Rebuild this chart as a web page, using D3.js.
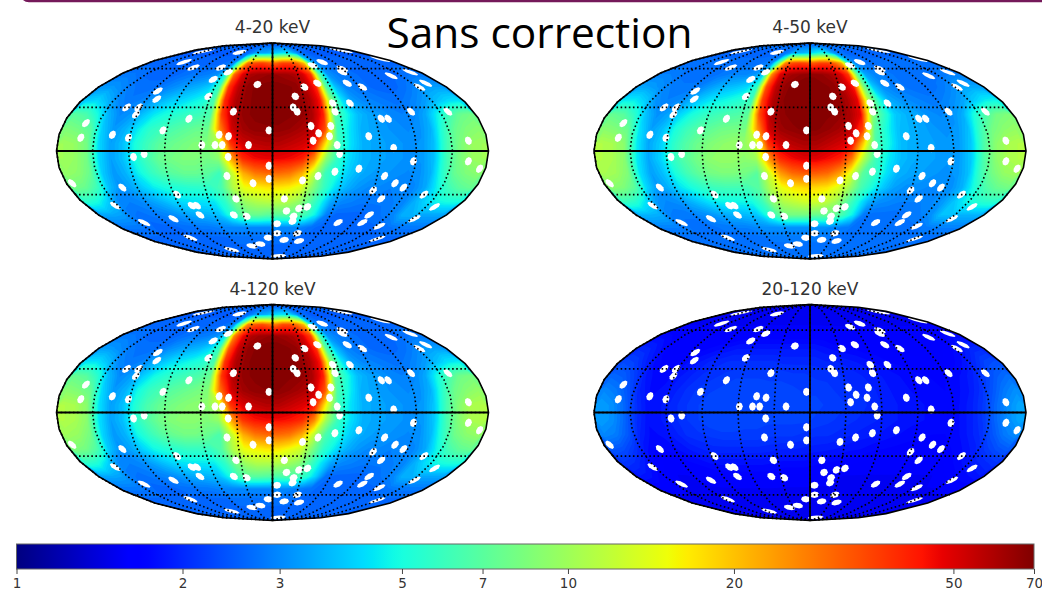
<!DOCTYPE html>
<html lang="en">
<head>
<meta charset="UTF-8">
<title>Sans correction</title>
<script src="https://d3js.org/d3.v7.min.js"></script>
<style>
  html, body { margin: 0; padding: 0; background: #fff; overflow: hidden; }
  svg { display: block; }
</style>
</head>
<body>
<div id="my_dataviz"></div>
<script>
// rows run from lat 85 down to lat -85, columns from lon -175 to lon 175 (10 degree cells)
var flux4to20 = [
  [2.6,2.6,2.6,2.6,2.6,2.6,2.6,2.6,2.6,2.6,2.6,2.6,2.6,2.6,2.6,2.6,2.6,2.6,2.6,2.6,2.6,2.6,2.6,2.6,2.6,2.6,2.6,2.6,2.6,2.6,2.6,2.6,2.6,2.6,2.6,2.6],
  [2.5,2.5,2.5,2.5,2.5,2.5,2.5,2.5,2.5,2.5,2.5,2.5,2.6,2.8,3.2,3.4,3.4,3.6,4,4.2,4.4,4.2,3.4,2.8,2.6,2.5,2.5,2.5,2.5,2.5,2.5,2.5,2.5,2.5,2.5,2.5],
  [2.6,2.6,2.6,2.6,2.6,2.6,2.6,2.6,2.6,2.6,2.6,2.7,3,9,28,34,36,32,30,36,36,30,20,4.5,2.9,2.7,2.6,2.6,2.6,2.6,2.6,2.6,2.6,2.6,2.6,2.6],
  [2.8,2.8,2.7,2.6,2.6,2.6,2.6,2.7,2.8,2.8,2.9,3.1,5,30,50,60,62,64,64,62,60,52,38,7,3.2,2.9,2.8,2.7,2.6,2.6,2.6,2.6,2.6,2.7,2.8,2.8],
  [3.2,3.2,3,2.8,2.7,2.7,2.8,3,3.2,3.4,3.6,4,6,38,56,66,68,69,69,68,66,56,42,7,3.8,3,2.8,2.7,2.6,2.6,2.6,2.7,2.9,3.2,3.3,3.3],
  [4,4.2,3.6,3,2.8,2.9,3.2,3.6,4,4.2,4.6,5,6.5,40,58,66,68,70,70,68,66,60,44,9,4.5,3.3,3,2.9,2.8,2.7,2.8,3,3.3,3.8,4.2,4.4],
  [7,6.5,5,3.6,3,3.2,3.8,4.5,5,5.4,5.8,6,6.5,36,58,66,68,70,70,68,66,60,42,7,5,3.8,3.4,3.2,3,2.9,3,3.4,4.6,6,7.5,8],
  [8.5,8,7,4,3.2,3.6,4.5,5.5,6,6.5,7,7.5,7.5,26,52,62,66,66,66,64,60,55,34,6,4.5,3.6,3.4,3.2,3.1,3,3.1,3.6,5.5,7.5,8.5,9],
  [10,9.5,8,4.2,3.3,3.8,5,6,7,7.5,8,8.5,8.5,11,38,52,56,58,58,55,52,46,16,6,4.4,3.6,3.4,3.3,3.2,3.1,3.2,3.8,6,8,9.5,10],
  [10,9.5,8,4.2,3.3,3.8,5,6.2,7.5,8,8.5,8.5,8,9,22,40,46,48,48,46,42,26,9,5.5,4.2,3.6,3.4,3.3,3.2,3.1,3.2,3.8,6,8,9.5,10],
  [9.5,9,7.5,4,3.2,3.6,4.6,5.6,6.5,7,7.5,7.5,7,6,12,22,28,30,30,28,22,12,6,5,4,3.5,3.3,3.2,3.1,3,3.1,3.6,5.5,7.5,8.5,9],
  [8,7.5,6,3.8,3.1,3.4,4,4.6,5,5.2,5.4,5.5,5.6,6.5,11,15,16,17,17,16,14,9,6,4.4,3.6,3.2,3,3,2.9,2.9,3,3.4,4.6,6,7,7.5],
  [5.5,5,4,3,2.9,3,3.3,3.6,4,4.3,4.4,4.4,4.5,5.5,8,10,11,11.5,11.5,11,9.5,7,5,3.4,3,2.9,2.8,2.8,2.8,2.9,3,3.6,4.2,4.8,5,5],
  [3.4,3.4,3.3,2.8,2.7,2.8,2.9,3,3.2,3.4,3.5,3.6,3.8,5,6.5,7.5,7.5,7,7,7,7,6,4.5,2.9,2.6,2.6,2.6,2.6,2.7,2.8,3,3.6,3.6,3.4,3.4,3.4],
  [2.8,2.8,2.8,2.7,2.6,2.6,2.6,2.7,2.7,2.8,2.8,2.9,3,3,3,3,3,3,3,3,3,2.9,2.7,2.6,2.6,2.6,2.6,2.6,2.6,2.6,2.6,2.7,2.8,2.8,2.8,2.8],
  [2.6,2.6,2.6,2.6,2.6,2.6,2.6,2.6,2.6,2.6,2.6,2.6,2.7,2.7,2.7,2.7,2.7,2.7,2.7,2.7,2.7,2.6,2.6,2.6,2.6,2.6,2.6,2.6,2.6,2.6,2.6,2.6,2.6,2.6,2.6,2.6],
  [2.6,2.6,2.6,2.6,2.6,2.6,2.6,2.6,2.6,2.6,2.6,2.6,2.6,2.6,2.6,2.6,2.6,2.6,2.6,2.6,2.6,2.6,2.6,2.6,2.6,2.6,2.6,2.6,2.6,2.6,2.6,2.6,2.6,2.6,2.6,2.6],
  [2.6,2.6,2.6,2.6,2.6,2.6,2.6,2.6,2.6,2.6,2.6,2.6,2.6,2.6,2.6,2.6,2.6,2.6,2.6,2.6,2.6,2.6,2.6,2.6,2.6,2.6,2.6,2.6,2.6,2.6,2.6,2.6,2.6,2.6,2.6,2.6]
];

var flux4to50 = [
  [2.7,2.7,2.7,2.7,2.7,2.7,2.7,2.7,2.7,2.7,2.7,2.7,2.7,2.7,2.7,2.7,2.7,2.7,2.7,2.7,2.7,2.7,2.7,2.7,2.7,2.7,2.7,2.7,2.7,2.7,2.7,2.7,2.7,2.7,2.7,2.7],
  [2.6,2.6,2.6,2.6,2.6,2.6,2.6,2.6,2.6,2.6,2.6,2.6,2.7,2.9,3.4,3.6,3.6,3.8,4.4,4.8,5,4.4,3.4,2.9,2.7,2.6,2.6,2.6,2.6,2.6,2.6,2.6,2.6,2.6,2.6,2.6],
  [2.7,2.7,2.7,2.7,2.7,2.7,2.7,2.7,2.7,2.7,2.7,2.8,3,7,26,34,36,34,32,36,36,30,22,5,3,2.8,2.7,2.7,2.7,2.7,2.7,2.7,2.7,2.7,2.7,2.7],
  [2.9,2.9,2.8,2.7,2.7,2.7,2.7,2.8,2.9,3,3,3.2,4,26,50,60,63,66,66,64,60,52,38,8,3.4,3,2.9,2.8,2.7,2.7,2.7,2.7,2.7,2.8,2.9,2.9],
  [3.4,3.3,3.1,2.9,2.8,2.8,2.9,3.2,3.5,3.7,3.9,4.2,5.5,34,56,66,69,70,70,68,66,56,44,9,4,3.1,2.9,2.8,2.7,2.7,2.7,2.8,3,3.3,3.4,3.4],
  [4.6,4.6,4,3.1,2.9,3,3.4,3.9,4.4,4.7,5,5.4,6,36,58,67,69,70,70,69,66,60,48,11,5.2,3.5,3.2,3,2.9,2.8,2.9,3.1,3.4,4,4.6,4.8],
  [7.5,7,5.5,3.8,3.1,3.4,4.2,5,5.6,6,6.4,6.6,7,34,58,66,69,70,70,68,66,60,48,9,5.8,4,3.6,3.4,3.1,3,3.1,3.5,5,6.5,8,8.5],
  [9,8.5,7.5,4.4,3.3,3.8,5,6,6.8,7.2,7.8,8,8,24,52,63,66,68,68,65,61,56,36,7,5,3.8,3.6,3.4,3.2,3.1,3.2,3.8,6,8,9,9.5],
  [11,10.5,9,4.6,3.4,4,5.4,6.6,7.6,8.4,9,9.5,9.5,12,38,52,57,60,60,56,52,46,18,6.5,5,3.8,3.5,3.4,3.3,3.2,3.3,4,6.5,9,10.5,11],
  [11,10.5,9,4.6,3.4,4.1,5.6,6.8,8,9,9.5,9.5,9,10,24,40,46,50,50,46,42,28,11,6,4.6,3.8,3.5,3.4,3.3,3.2,3.3,4,6.5,9,10.5,11],
  [10.5,10,8.5,4.4,3.3,3.8,5,6.2,7.2,8,8.4,8.4,8,7,13,24,30,32,32,30,24,14,7,5.8,4.4,3.6,3.4,3.3,3.2,3.1,3.2,3.8,6,8,9.5,10],
  [9,8.5,7,4.2,3.2,3.6,4.4,5,5.6,6,6.2,6.2,6.2,7,11,15,17,18,18,17,14,10,6.4,5,3.9,3.3,3.1,3.1,3,3,3.1,3.6,5,6.5,7.5,8],
  [6,5.5,4.4,3.2,3,3.1,3.5,3.9,4.4,4.7,4.8,4.8,4.9,6,9,11,12,13,13,12,10,7,5,3.6,3.1,3,2.9,2.9,2.9,3,3.2,3.8,4.6,5.2,5.5,5.5],
  [3.6,3.6,3.5,2.9,2.8,2.8,3,3.1,3.3,3.5,3.6,3.7,3.9,5,6.5,8,8,8,7.5,7.5,7.5,6,4.5,2.8,2.7,2.7,2.7,2.7,2.8,2.9,3.1,3.8,3.8,3.6,3.6,3.6],
  [2.9,2.9,2.9,2.8,2.7,2.7,2.7,2.8,2.8,2.9,2.9,3,3.1,3.1,3.1,3.1,3.1,3.1,3.1,3.1,3,2.9,2.8,2.7,2.7,2.7,2.7,2.7,2.7,2.7,2.7,2.8,2.9,2.9,2.9,2.9],
  [2.7,2.7,2.7,2.7,2.7,2.7,2.7,2.7,2.7,2.7,2.7,2.7,2.8,2.8,2.8,2.8,2.8,2.8,2.8,2.8,2.8,2.7,2.7,2.7,2.7,2.7,2.7,2.7,2.7,2.7,2.7,2.7,2.7,2.7,2.7,2.7],
  [2.7,2.7,2.7,2.7,2.7,2.7,2.7,2.7,2.7,2.7,2.7,2.7,2.7,2.7,2.7,2.7,2.7,2.7,2.7,2.7,2.7,2.7,2.7,2.7,2.7,2.7,2.7,2.7,2.7,2.7,2.7,2.7,2.7,2.7,2.7,2.7],
  [2.7,2.7,2.7,2.7,2.7,2.7,2.7,2.7,2.7,2.7,2.7,2.7,2.7,2.7,2.7,2.7,2.7,2.7,2.7,2.7,2.7,2.7,2.7,2.7,2.7,2.7,2.7,2.7,2.7,2.7,2.7,2.7,2.7,2.7,2.7,2.7]
];

var flux4to120 = [
  [2.6,2.6,2.6,2.6,2.6,2.6,2.6,2.6,2.6,2.6,2.6,2.6,2.6,2.6,2.6,2.6,2.6,2.6,2.6,2.6,2.6,2.6,2.6,2.6,2.6,2.6,2.6,2.6,2.6,2.6,2.6,2.6,2.6,2.6,2.6,2.6],
  [2.5,2.5,2.5,2.5,2.5,2.5,2.5,2.5,2.5,2.5,2.5,2.5,2.6,2.8,3.2,3.4,3.5,3.8,4.2,4.4,4.4,4.2,3.4,2.8,2.6,2.5,2.5,2.5,2.5,2.5,2.5,2.5,2.5,2.5,2.5,2.5],
  [2.6,2.6,2.6,2.6,2.6,2.6,2.6,2.6,2.6,2.6,2.6,2.7,3,8,26,32,34,30,28,34,34,28,20,4.5,2.9,2.7,2.6,2.6,2.6,2.6,2.6,2.6,2.6,2.6,2.6,2.6],
  [2.8,2.8,2.7,2.6,2.6,2.6,2.6,2.7,2.8,2.8,2.9,3.1,4.5,26,46,58,62,64,64,62,58,50,36,7,3.2,2.9,2.8,2.7,2.6,2.6,2.6,2.6,2.6,2.7,2.8,2.8],
  [3.3,3.2,3,2.8,2.7,2.7,2.8,3.1,3.3,3.5,3.7,4.2,6,32,54,65,68,70,70,68,65,55,40,7,3.8,3,2.8,2.7,2.6,2.6,2.6,2.7,2.9,3.2,3.3,3.3],
  [4.4,4.4,3.8,3,2.8,2.9,3.3,3.8,4.3,4.6,5,5.4,6.5,38,58,66,69,70,70,69,66,60,44,9,4.6,3.3,3,2.9,2.8,2.7,2.8,3,3.3,3.8,4.4,4.6],
  [7.5,7,5.5,3.7,3,3.3,4,4.8,5.4,5.8,6.2,6.6,7.5,38,58,66,68,70,70,68,66,60,42,7.5,5.2,3.8,3.4,3.2,3,2.9,3,3.4,4.8,6.2,7.8,8.2],
  [9,8.5,7.5,4.2,3.2,3.6,4.8,5.8,6.4,7,7.5,8,8.5,28,52,62,66,67,67,64,60,55,32,6.5,4.8,3.6,3.4,3.2,3.1,3,3.1,3.6,5.6,7.8,8.8,9.5],
  [11,10.5,9,4.4,3.3,3.8,5.2,6.4,7.4,8,8.6,9,9,12,38,50,55,58,58,54,50,44,15,6,4.4,3.6,3.4,3.3,3.2,3.1,3.2,3.9,6.2,8.6,10.5,11],
  [11,10.5,9,4.4,3.3,3.8,5.4,6.6,7.8,8.6,9,9,8.5,9.5,22,38,44,46,46,44,40,26,10,5.8,4.4,3.6,3.4,3.3,3.2,3.1,3.2,3.9,6.2,8.6,10.5,11],
  [10,9.5,8,4.2,3.2,3.6,4.8,5.8,6.8,7.5,8,8,7.5,6.5,12,22,28,30,30,28,22,12,6.5,5.2,4.1,3.5,3.3,3.2,3.1,3,3.1,3.7,5.6,7.8,9,9.5],
  [8.5,8,6.5,3.9,3.1,3.4,4.1,4.8,5.2,5.5,5.8,5.8,5.8,6.8,11,15,16,17,17,15,13,8.5,5.6,4.5,3.6,3.2,3,3,2.9,2.9,3,3.4,4.7,6.2,7.2,7.6],
  [5.6,5.2,4.1,3,2.9,3,3.3,3.7,4.1,4.4,4.5,4.5,4.6,5.6,8,10,11,11,11,10,9,6.5,4.6,3.4,3,2.9,2.8,2.8,2.8,2.9,3,3.6,4.4,4.9,5.1,5.1],
  [3.4,3.4,3.3,2.8,2.7,2.8,2.9,3,3.2,3.4,3.5,3.6,3.8,4.8,6.2,7,7,6.8,6.5,6.5,6.5,5.4,4,2.7,2.6,2.6,2.6,2.6,2.7,2.8,3,3.6,3.6,3.4,3.4,3.4],
  [2.8,2.8,2.8,2.7,2.6,2.6,2.6,2.7,2.7,2.8,2.8,2.9,3,3,3,3,3,3,3,3,2.9,2.8,2.7,2.6,2.6,2.6,2.6,2.6,2.6,2.6,2.6,2.7,2.8,2.8,2.8,2.8],
  [2.6,2.6,2.6,2.6,2.6,2.6,2.6,2.6,2.6,2.6,2.6,2.6,2.7,2.7,2.7,2.7,2.7,2.7,2.7,2.7,2.7,2.6,2.6,2.6,2.6,2.6,2.6,2.6,2.6,2.6,2.6,2.6,2.6,2.6,2.6,2.6],
  [2.6,2.6,2.6,2.6,2.6,2.6,2.6,2.6,2.6,2.6,2.6,2.6,2.6,2.6,2.6,2.6,2.6,2.6,2.6,2.6,2.6,2.6,2.6,2.6,2.6,2.6,2.6,2.6,2.6,2.6,2.6,2.6,2.6,2.6,2.6,2.6],
  [2.6,2.6,2.6,2.6,2.6,2.6,2.6,2.6,2.6,2.6,2.6,2.6,2.6,2.6,2.6,2.6,2.6,2.6,2.6,2.6,2.6,2.6,2.6,2.6,2.6,2.6,2.6,2.6,2.6,2.6,2.6,2.6,2.6,2.6,2.6,2.6]
];

var flux20to120 = [
  [1.5,1.5,1.5,1.5,1.5,1.5,1.5,1.5,1.5,1.5,1.5,1.5,1.5,1.5,1.5,1.5,1.5,1.5,1.5,1.5,1.5,1.5,1.5,1.5,1.5,1.5,1.5,1.5,1.5,1.5,1.5,1.5,1.5,1.5,1.5,1.5],
  [1.5,1.5,1.5,1.5,1.5,1.5,1.5,1.5,1.5,1.5,1.5,1.5,1.5,1.5,1.5,1.5,1.5,1.5,1.5,1.5,1.5,1.5,1.5,1.5,1.5,1.5,1.5,1.5,1.5,1.5,1.5,1.5,1.5,1.5,1.5,1.5],
  [1.55,1.55,1.55,1.55,1.55,1.55,1.55,1.55,1.55,1.55,1.55,1.55,1.55,1.55,1.55,1.55,1.55,1.55,1.55,1.55,1.55,1.55,1.55,1.55,1.55,1.55,1.55,1.55,1.55,1.55,1.55,1.55,1.55,1.55,1.55,1.55],
  [1.75,1.72,1.65,1.6,1.6,1.6,1.6,1.6,1.6,1.6,1.65,1.65,1.65,1.65,1.65,1.65,1.65,1.65,1.65,1.65,1.6,1.6,1.6,1.6,1.6,1.6,1.6,1.6,1.6,1.6,1.6,1.6,1.62,1.68,1.75,1.75],
  [2,1.95,1.8,1.65,1.6,1.6,1.65,1.7,1.75,1.8,1.85,1.85,1.85,1.85,1.85,1.85,1.85,1.85,1.85,1.8,1.75,1.72,1.7,1.65,1.65,1.62,1.6,1.6,1.6,1.6,1.6,1.62,1.68,1.8,1.95,2],
  [2.3,2.2,1.95,1.75,1.65,1.68,1.78,1.85,1.95,2,2.05,2.05,2.05,2.05,2.05,2,2,2,2,1.95,1.95,1.9,1.85,1.8,1.75,1.7,1.68,1.65,1.65,1.62,1.62,1.68,1.8,2,2.25,2.35],
  [2.6,2.5,2.2,1.85,1.72,1.75,1.85,1.95,2.05,2.1,2.15,2.2,2.2,2.2,2.2,2.2,2.15,2.15,2.1,2.1,2.05,2,1.95,1.9,1.85,1.8,1.75,1.72,1.7,1.68,1.72,1.8,1.95,2.2,2.5,2.7],
  [3,2.8,2.4,1.95,1.75,1.8,1.92,2.05,2.15,2.2,2.25,2.3,2.3,2.3,2.25,2.25,2.25,2.2,2.2,2.15,2.1,2.05,2,1.95,1.88,1.82,1.78,1.75,1.72,1.7,1.75,1.85,2.05,2.4,2.8,3.1],
  [3.3,3.1,2.6,2.05,1.8,1.85,1.98,2.1,2.2,2.3,2.3,2.3,2.3,2.3,2.3,2.3,2.25,2.25,2.25,2.2,2.15,2.1,2.05,1.98,1.9,1.85,1.8,1.78,1.75,1.72,1.78,1.92,2.15,2.6,3.05,3.4],
  [3.3,3.1,2.6,2.05,1.8,1.85,1.98,2.1,2.2,2.3,2.3,2.3,2.25,2.25,2.25,2.25,2.25,2.25,2.2,2.15,2.1,2.05,2,1.95,1.9,1.85,1.8,1.78,1.75,1.72,1.78,1.92,2.15,2.6,3.05,3.4],
  [3,2.85,2.45,1.95,1.75,1.8,1.9,2.05,2.1,2.15,2.2,2.2,2.2,2.2,2.15,2.15,2.15,2.1,2.05,2.05,2,1.95,1.9,1.88,1.82,1.78,1.75,1.72,1.7,1.7,1.75,1.88,2.05,2.4,2.8,3.05],
  [2.45,2.35,2.1,1.8,1.68,1.72,1.8,1.88,1.95,2,2,2,2,2,1.98,1.95,1.95,1.92,1.9,1.88,1.85,1.8,1.78,1.72,1.7,1.68,1.65,1.65,1.65,1.65,1.7,1.78,1.9,2.15,2.35,2.5],
  [2.1,2.02,1.85,1.68,1.6,1.62,1.68,1.72,1.78,1.8,1.8,1.8,1.8,1.8,1.78,1.75,1.75,1.75,1.72,1.7,1.68,1.65,1.62,1.6,1.6,1.6,1.6,1.6,1.6,1.6,1.62,1.7,1.8,1.9,2,2.1],
  [1.85,1.8,1.68,1.6,1.55,1.55,1.58,1.6,1.62,1.65,1.65,1.65,1.65,1.65,1.62,1.6,1.6,1.6,1.6,1.58,1.58,1.55,1.55,1.55,1.55,1.55,1.55,1.55,1.55,1.55,1.55,1.6,1.65,1.72,1.78,1.85],
  [1.6,1.6,1.58,1.55,1.55,1.55,1.55,1.55,1.55,1.55,1.55,1.55,1.55,1.55,1.55,1.55,1.55,1.55,1.55,1.55,1.55,1.55,1.55,1.55,1.55,1.55,1.55,1.55,1.55,1.55,1.55,1.55,1.55,1.58,1.6,1.6],
  [1.52,1.52,1.52,1.52,1.52,1.52,1.52,1.52,1.52,1.52,1.52,1.52,1.52,1.52,1.52,1.52,1.52,1.52,1.52,1.52,1.52,1.52,1.52,1.52,1.52,1.52,1.52,1.52,1.52,1.52,1.52,1.52,1.52,1.52,1.52,1.52],
  [1.5,1.5,1.5,1.5,1.5,1.5,1.5,1.5,1.5,1.5,1.5,1.5,1.5,1.5,1.5,1.5,1.5,1.5,1.5,1.5,1.5,1.5,1.5,1.5,1.5,1.5,1.5,1.5,1.5,1.5,1.5,1.5,1.5,1.5,1.5,1.5],
  [1.5,1.5,1.5,1.5,1.5,1.5,1.5,1.5,1.5,1.5,1.5,1.5,1.5,1.5,1.5,1.5,1.5,1.5,1.5,1.5,1.5,1.5,1.5,1.5,1.5,1.5,1.5,1.5,1.5,1.5,1.5,1.5,1.5,1.5,1.5,1.5]
];

// masked point sources, same on every map
var sourceLon = [-149,-68,-130,-104,-68,-54,-66,-16,-115,-110,-62,-133,-122,-121,-35,-73,-161,-93,-161,-135,-121,-45,-37,-59,-48,-42,-20,-3,33,22,19,22,55,73,90,85,48,80,93,138,168,164,152,172,156,56,56,72,124,157,95,101,33,50,39,48,34,54,81,101,164,164,175,-175,-116,-107,-37,56,-3,118,73,53,39,26,-3,-17,-39,-133,96,107,116,90,101,138,158,-87,-34,11,-152,-78,-73,-75,-40,-27,14,26,22,34,-143,-106,100,100,124,73,152,5,-115,-6,6,17,32,40,150,-36,-20,-84,20,22];
var sourceLat = [77,76,66,61,61,57,51,47,42,36,38,30,30,25,27,22,19,14,9,11,9,11,10,4,4,4,4,14,45,38,30,27,63,66,60,57,48,48,45,54,57,48,45,69,78,33,27,33,27,27,22,22,17,17,12,10,7,4,10,2,7,-7,-12,-22,-4,-2,-4,-2,-10,-7,-12,-14,-17,-20,-19,-22,-17,-25,-17,-22,-25,-27,-33,-30,-39,-30,-33,-33,-38,-38,-38,-45,-45,-46,-42,-40,-46,-39,-51,-48,-45,-51,-54,-51,-48,-52,-64,-64,-60,-66,-60,-67,-65,-72,-70,-76,-84,-50];

var colorbarTicks = [1, 2, 3, 5, 7, 10, 20, 50, 70];

var maps = [
  {title: "4-20 keV", grid: flux4to20},
  {title: "4-50 keV", grid: flux4to50},
  {title: "4-120 keV", grid: flux4to120},
  {title: "20-120 keV", grid: flux20to120}
];

var width = 1042, height = 591;
var svg = d3.select("#my_dataviz").append("svg")
  .attr("width", width)
  .attr("height", height);

// d3 core has no Mollweide, so write the raw projection
function mollweideRaw(lambda, phi) {
  var theta = phi;
  if (Math.abs(Math.abs(phi) - Math.PI / 2) < 1e-6) {
    theta = phi;
  } else {
    for (var i = 0; i < 30; i++) {
      var dt = (2 * theta + Math.sin(2 * theta) - Math.PI * Math.sin(phi)) / (2 + 2 * Math.cos(2 * theta));
      theta -= dt;
      if (Math.abs(dt) < 1e-7) break;
    }
  }
  return [2 * Math.SQRT2 / Math.PI * lambda * Math.cos(theta), Math.SQRT2 * Math.sin(theta)];
}

// matplotlib jet over a log scale
var colorT = d3.scaleLog().domain([1, 70]).range([0, 1]).clamp(true);
var jetR = d3.scaleLinear().domain([0, .35, .66, .89, 1]).range([0, 0, 1, 1, .5]).clamp(true);
var jetG = d3.scaleLinear().domain([0, .125, .375, .64, .91, 1]).range([0, 0, 1, 1, 0, 0]).clamp(true);
var jetB = d3.scaleLinear().domain([0, .11, .34, .65, 1]).range([.5, 1, 1, 0, 0]).clamp(true);
function jet(t) {
  return d3.rgb(jetR(t) * 255, jetG(t) * 255, jetB(t) * 255).formatHex();
}

// purple edge of the slide above the plots
svg.append("rect")
  .attr("x", 21).attr("y", -30)
  .attr("width", 1100).attr("height", 31)
  .attr("rx", 8)
  .attr("fill", "none")
  .attr("stroke", "#75195a")
  .attr("stroke-width", 2.5);

var mapRadius = 216;
var centersX = [272.5, 810], centersY = [151, 412.5];
var bands = d3.range(0, 1, 1 / 96);
var nCols = 36, nRows = 18;
var contours = d3.contours().size([nCols, nRows]).thresholds(bands);

maps.forEach(function(m, idx) {
  var cx = centersX[idx % 2], cy = centersY[Math.floor(idx / 2)];
  var projection = d3.geoProjection(mollweideRaw)
    .scale(mapRadius / (2 * Math.SQRT2))
    .translate([cx, cy]);
  var path = d3.geoPath(projection);

  // contour rings are in grid units, send them through the projection
  var lonScale = d3.scaleLinear().domain([0, nCols]).range([-179.99, 179.99]);
  var latScale = d3.scaleLinear().domain([0, nRows]).range([89.99, -89.99]);
  var gridPath = d3.geoPath(d3.geoTransform({
    point: function(x, y) {
      var p = projection([lonScale(x), latScale(y)]);
      this.stream.point(p[0], p[1]);
    }
  }));

  var g = svg.append("g");
  var clipId = "clip" + idx;
  svg.append("clipPath").attr("id", clipId)
    .append("path").attr("d", path({type: "Sphere"}));

  var values = [];
  m.grid.forEach(function(row) {
    row.forEach(function(v) { values.push(colorT(v)); });
  });

  g.append("path")
    .attr("d", path({type: "Sphere"}))
    .attr("fill", jet(d3.median(values)));

  g.append("g")
    .attr("clip-path", "url(#" + clipId + ")")
    .selectAll("path")
    .data(contours(values))
    .enter().append("path")
      .attr("d", gridPath)
      .attr("fill", function(d) { return jet(d.value + 1 / 192); });

  // masked sources
  var circle = d3.geoCircle().radius(2.9).precision(45);
  g.append("g").selectAll("path")
    .data(d3.range(sourceLon.length))
    .enter().append("path")
      .attr("d", function(i) { return path(circle.center([sourceLon[i], sourceLat[i]])()); })
      .attr("fill", "#fff");

  // dotted graticule, every 30 degrees
  var graticule = d3.geoGraticule().step([30, 30]).extent([[-180, -90], [180, 90.01]]);
  g.append("path")
    .attr("d", path(graticule()))
    .attr("fill", "none")
    .attr("stroke", "#000")
    .attr("stroke-width", 1.6)
    .attr("stroke-dasharray", "1.6 2.5");

  // solid equator and central meridian
  g.append("path")
    .attr("d", path({type: "MultiLineString", coordinates: [
      [[-180, 0], [-90, 0], [0, 0], [90, 0], [180, 0]],
      [[0, -90], [0, 0], [0, 90]]
    ]}))
    .attr("fill", "none")
    .attr("stroke", "#000")
    .attr("stroke-width", 1.8);

  g.append("path")
    .attr("d", path({type: "Sphere"}))
    .attr("fill", "none")
    .attr("stroke", "#000")
    .attr("stroke-width", 1.6);

  svg.append("text")
    .attr("x", cx)
    .attr("y", cy - 118)
    .attr("text-anchor", "middle")
    .style("font-family", "DejaVu Sans")
    .style("font-size", "17px")
    .style("fill", "#333")
    .text(m.title);
});

// big title
svg.append("text")
  .attr("x", 539.5)
  .attr("y", 48)
  .attr("text-anchor", "middle")
  .style("font-family", "Open Sans")
  .style("font-size", "42.4px")
  .style("fill", "#000")
  .text("Sans correction");

// colorbar
var barX = d3.scaleLog().domain([1, 70]).range([16.5, 1034]);
var barTop = 544, barHeight = 25;
var gradient = svg.append("defs").append("linearGradient")
  .attr("id", "jetbar");
gradient.selectAll("stop")
  .data(d3.range(0, 1.001, .01))
  .enter().append("stop")
    .attr("offset", function(d) { return d; })
    .attr("stop-color", function(d) { return jet(d); });

svg.append("rect")
  .attr("x", barX(1))
  .attr("y", barTop)
  .attr("width", barX(70) - barX(1))
  .attr("height", barHeight)
  .attr("fill", "url(#jetbar)")
  .attr("stroke", "#666")
  .attr("stroke-width", 1);

var axis = svg.append("g")
  .attr("transform", "translate(0," + (barTop + barHeight) + ")")
  .call(d3.axisBottom(barX)
    .tickValues(colorbarTicks)
    .tickFormat(d3.format("d"))
    .tickSize(5)
    .tickPadding(4));
axis.select(".domain").remove();
axis.selectAll("line").attr("stroke", "#444");
axis.selectAll("text")
  .style("font-family", "DejaVu Sans")
  .style("font-size", "13.5px")
  .style("fill", "#333");
</script>
</body>
</html>
